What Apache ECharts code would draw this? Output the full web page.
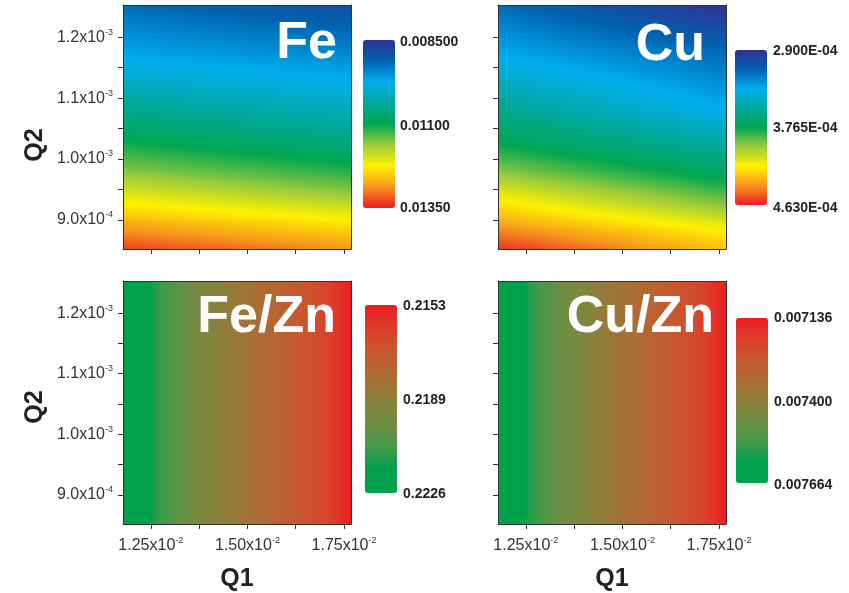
<!DOCTYPE html>
<html>
<head>
<meta charset="utf-8">
<script src="https://cdn.jsdelivr.net/npm/echarts@6/dist/echarts.min.js"></script>
<style>
html, body { margin: 0; padding: 0; background: #fff; }
#chart { width: 849px; height: 593px; }
</style>
</head>
<body>
<div id="chart"></div>
<script>
// axis ranges / ticks
const q1Range = [0.01178, 0.01768];
const q2Range = [0.000852, 0.001253];
const q1Ticks = [0.0125, 0.01375, 0.015, 0.01625, 0.0175];
const q1Labels = [0.0125, 0.015, 0.0175];
const q2Ticks = [0.0009, 0.00095, 0.001, 0.00105, 0.0011, 0.00115, 0.0012];
const q2Labels = [0.0009, 0.001, 0.0011, 0.0012];

// where the Fe / Cu values were read: 6 Q1 columns, 24 Q2 rows (top -> bottom)
const q1Cols = [0.01178, 0.01296, 0.01414, 0.01532, 0.0165, 0.01768];
const q2Rows = [
  0.0012446, 0.0012279, 0.0012112, 0.0011945, 0.0011778, 0.0011611, 0.0011444, 0.0011277,
  0.0011110, 0.0010943, 0.0010775, 0.0010608, 0.0010441, 0.0010274, 0.0010107, 0.0009940,
  0.0009773, 0.0009606, 0.0009439, 0.0009272, 0.0009104, 0.0008937, 0.0008770, 0.0008603
];

const feRows = [
  [0.00925, 0.00918, 0.00911, 0.00905, 0.00898, 0.00891],
  [0.00936, 0.00930, 0.00923, 0.00917, 0.00910, 0.00904],
  [0.00946, 0.00940, 0.00934, 0.00928, 0.00922, 0.00916],
  [0.00956, 0.00950, 0.00945, 0.00939, 0.00934, 0.00928],
  [0.00966, 0.00961, 0.00956, 0.00950, 0.00945, 0.00940],
  [0.00977, 0.00972, 0.00967, 0.00962, 0.00957, 0.00952],
  [0.00992, 0.00987, 0.00981, 0.00976, 0.00970, 0.00965],
  [0.01007, 0.01001, 0.00995, 0.00989, 0.00983, 0.00977],
  [0.01022, 0.01016, 0.01009, 0.01003, 0.00996, 0.00990],
  [0.01038, 0.01031, 0.01024, 0.01018, 0.01011, 0.01004],
  [0.01054, 0.01047, 0.01039, 0.01032, 0.01024, 0.01017],
  [0.01071, 0.01063, 0.01055, 0.01047, 0.01039, 0.01031],
  [0.01087, 0.01079, 0.01071, 0.01063, 0.01055, 0.01047],
  [0.01104, 0.01096, 0.01088, 0.01081, 0.01073, 0.01065],
  [0.01121, 0.01113, 0.01105, 0.01098, 0.01090, 0.01082],
  [0.01138, 0.01130, 0.01123, 0.01115, 0.01108, 0.01100],
  [0.01157, 0.01149, 0.01141, 0.01134, 0.01126, 0.01118],
  [0.01180, 0.01171, 0.01163, 0.01154, 0.01146, 0.01137],
  [0.01203, 0.01194, 0.01185, 0.01176, 0.01167, 0.01158],
  [0.01226, 0.01217, 0.01209, 0.01200, 0.01192, 0.01183],
  [0.01248, 0.01240, 0.01232, 0.01225, 0.01217, 0.01209],
  [0.01272, 0.01264, 0.01256, 0.01249, 0.01241, 0.01233],
  [0.01295, 0.01287, 0.01279, 0.01270, 0.01262, 0.01254],
  [0.01319, 0.01310, 0.01301, 0.01293, 0.01284, 0.01275]
];

const cuRows = [
  [316.1e-6, 311.4e-6, 306.7e-6, 302.0e-6, 297.3e-6, 292.6e-6],
  [319.8e-6, 315.4e-6, 310.9e-6, 306.5e-6, 302.0e-6, 297.6e-6],
  [323.6e-6, 319.4e-6, 315.2e-6, 311.0e-6, 306.8e-6, 302.6e-6],
  [327.2e-6, 323.3e-6, 319.4e-6, 315.6e-6, 311.7e-6, 307.8e-6],
  [331.0e-6, 327.4e-6, 323.7e-6, 320.1e-6, 316.4e-6, 312.8e-6],
  [335.2e-6, 331.4e-6, 327.6e-6, 323.9e-6, 320.1e-6, 316.3e-6],
  [340.0e-6, 336.0e-6, 331.9e-6, 327.9e-6, 323.8e-6, 319.8e-6],
  [345.0e-6, 340.7e-6, 336.4e-6, 332.0e-6, 327.7e-6, 323.4e-6],
  [349.9e-6, 345.3e-6, 340.7e-6, 336.0e-6, 331.4e-6, 326.8e-6],
  [354.9e-6, 350.0e-6, 345.1e-6, 340.1e-6, 335.2e-6, 330.3e-6],
  [360.1e-6, 354.9e-6, 349.8e-6, 344.6e-6, 339.5e-6, 334.3e-6],
  [365.4e-6, 360.4e-6, 355.4e-6, 350.3e-6, 345.3e-6, 340.3e-6],
  [370.8e-6, 365.9e-6, 361.0e-6, 356.2e-6, 351.3e-6, 346.4e-6],
  [376.0e-6, 371.3e-6, 366.5e-6, 361.8e-6, 357.0e-6, 352.3e-6],
  [382.6e-6, 377.8e-6, 373.0e-6, 368.3e-6, 363.5e-6, 358.7e-6],
  [389.0e-6, 384.3e-6, 379.5e-6, 374.8e-6, 370.0e-6, 365.3e-6],
  [396.2e-6, 391.3e-6, 386.4e-6, 381.6e-6, 376.7e-6, 371.8e-6],
  [405.0e-6, 399.7e-6, 394.5e-6, 389.2e-6, 384.0e-6, 378.7e-6],
  [413.9e-6, 408.4e-6, 402.9e-6, 397.4e-6, 391.9e-6, 386.4e-6],
  [422.2e-6, 416.6e-6, 410.9e-6, 405.3e-6, 399.6e-6, 394.0e-6],
  [430.0e-6, 424.8e-6, 419.5e-6, 414.3e-6, 409.0e-6, 403.8e-6],
  [437.7e-6, 432.9e-6, 428.0e-6, 423.2e-6, 418.3e-6, 413.5e-6],
  [446.4e-6, 441.5e-6, 436.6e-6, 431.6e-6, 426.7e-6, 421.8e-6],
  [455.0e-6, 449.5e-6, 444.0e-6, 438.4e-6, 432.9e-6, 427.4e-6]
];

// Fe/Zn and Cu/Zn only change along Q1; read at these 40 Q1 positions
const q1Strip = [
  0.011854, 0.012001, 0.012149, 0.012296, 0.012444, 0.012591, 0.012739, 0.012886, 0.013034, 0.013181,
  0.013329, 0.013476, 0.013624, 0.013771, 0.013919, 0.014066, 0.014214, 0.014361, 0.014509, 0.014656,
  0.014804, 0.014951, 0.015099, 0.015246, 0.015394, 0.015541, 0.015689, 0.015836, 0.015984, 0.016131,
  0.016279, 0.016426, 0.016574, 0.016721, 0.016869, 0.017016, 0.017164, 0.017311, 0.017459, 0.017606
];
const q2Strip = [0.001253, 0.000852];
const feZnCols = [
  0.22202, 0.22194, 0.22194, 0.22187, 0.22180, 0.22125, 0.22099, 0.22076, 0.22053, 0.22029,
  0.22006, 0.21987, 0.21970, 0.21954, 0.21937, 0.21921, 0.21905, 0.21891, 0.21877, 0.21863,
  0.21849, 0.21835, 0.21821, 0.21809, 0.21797, 0.21785, 0.21772, 0.21760, 0.21748, 0.21734,
  0.21720, 0.21706, 0.21692, 0.21678, 0.21662, 0.21642, 0.21621, 0.21600, 0.21575, 0.21545
];
const cuZnCols = [
  7622e-6, 7616e-6, 7616e-6, 7611e-6, 7606e-6, 7566e-6, 7548e-6, 7531e-6, 7514e-6, 7497e-6,
  7480e-6, 7467e-6, 7454e-6, 7443e-6, 7431e-6, 7419e-6, 7407e-6, 7397e-6, 7387e-6, 7377e-6,
  7367e-6, 7357e-6, 7347e-6, 7338e-6, 7329e-6, 7320e-6, 7311e-6, 7302e-6, 7293e-6, 7283e-6,
  7273e-6, 7263e-6, 7253e-6, 7243e-6, 7232e-6, 7217e-6, 7202e-6, 7187e-6, 7169e-6, 7147e-6
];

// colour bar ranges and their labels (top, middle, bottom)
const feRange = [0.0085, 0.0135];
const cuRange = [2.9e-4, 4.63e-4];
const feZnRange = [0.2153, 0.2226];
const cuZnRange = [0.007136, 0.007664];
const feBarLabels = ['0.008500', '0.01100', '0.01350'];
const cuBarLabels = ['2.900E-04', '3.765E-04', '4.630E-04'];
const feZnBarLabels = ['0.2153', '0.2189', '0.2226'];
const cuZnBarLabels = ['0.007136', '0.007400', '0.007664'];

const rainbow = ['#2e3192', '#0062b0', '#00aeef', '#00a99d', '#00a651', '#9ccb3b', '#fff200', '#f7941d', '#ed1c24'];
const redGreen = ['#ed1c24', '#dc3e29', '#c8582d', '#ad6c32', '#8c803a', '#6f8e43', '#46994a', '#00a14b', '#00a14b'];

const FONT = '"Liberation Sans", Arial, sans-serif';

const panels = [
  { name: 'Fe', q1s: q1Cols, q2s: q2Rows, rows: feRows, range: feRange, colors: rainbow, labels: feBarLabels,
    grid: [123, 5, 228, 244], bar: [363, 40, 168], labelX: 400, labelY: [43, 127, 209],
    titleX: 337, titleY: 44, showQ1: false, showQ2: true },
  { name: 'Cu', q1s: q1Cols, q2s: q2Rows, rows: cuRows, range: cuRange, colors: rainbow, labels: cuBarLabels,
    grid: [498, 5, 228, 244], bar: [735, 50, 155], labelX: 773, labelY: [52, 129, 209],
    titleX: 705, titleY: 46, showQ1: false, showQ2: false },
  { name: 'Fe/Zn', q1s: q1Strip, q2s: q2Strip, rows: [feZnCols, feZnCols], range: feZnRange, colors: redGreen,
    labels: feZnBarLabels, grid: [123, 281, 228, 243], bar: [365, 305, 188], labelX: 403, labelY: [307, 401, 495],
    titleX: 336, titleY: 318, showQ1: true, showQ2: true },
  { name: 'Cu/Zn', q1s: q1Strip, q2s: q2Strip, rows: [cuZnCols, cuZnCols], range: cuZnRange, colors: redGreen,
    labels: cuZnBarLabels, grid: [498, 281, 228, 243], bar: [736, 318, 165], labelX: 774, labelY: [319, 403, 486],
    titleX: 714, titleY: 318, showQ1: true, showQ2: false }
];

function sciLabel(v, digits) {
  const e = Math.floor(Math.log10(v) + 1e-9);
  const m = v / Math.pow(10, e);
  return '{m|' + m.toFixed(digits) + 'x10}{e|' + e + '}';
}
const sciRich = {
  m: { fontSize: 16, color: '#333', fontFamily: FONT },
  e: { fontSize: 9, color: '#333', fontFamily: FONT, padding: [0, 0, 10, 0] }
};

// each cell between four read values is shaded with a linear gradient
// coloured through the same colour list as the visualMap
function makeRender(p) {
  const span = p.range[1] - p.range[0];
  const nc = p.q1s.length, nr = p.q2s.length;
  const colorOf = v => echarts.color.lerp(Math.min(1, Math.max(0, (v - p.range[0]) / span)), p.colors);
  return function (params, api) {
    const c = api.value(3), r = api.value(4);
    if (c >= nc - 1 || r >= nr - 1) return null;
    const s0 = api.coord([p.q1s[c], p.q2s[r]]);
    const s1 = api.coord([p.q1s[c + 1], p.q2s[r + 1]]);
    const L = c === 0 ? api.coord([q1Range[0], q2Range[0]])[0] : s0[0];
    const R = (c === nc - 2 ? api.coord([q1Range[1], q2Range[0]])[0] : s1[0]) + 0.7;
    const T = r === 0 ? api.coord([q1Range[0], q2Range[1]])[1] : s0[1];
    const B = (r === nr - 2 ? api.coord([q1Range[0], q2Range[0]])[1] : s1[1]) + 0.7;
    const v00 = p.rows[r][c], v10 = p.rows[r][c + 1], v01 = p.rows[r + 1][c], v11 = p.rows[r + 1][c + 1];
    const w = s1[0] - s0[0], h = s1[1] - s0[1];
    const gx = ((v10 - v00) + (v11 - v01)) / (2 * w);
    const gy = ((v01 - v00) + (v11 - v10)) / (2 * h);
    const cx = (s0[0] + s1[0]) / 2, cy = (s0[1] + s1[1]) / 2;
    const vc = (v00 + v10 + v01 + v11) / 4;
    const g = Math.hypot(gx, gy);
    let fill;
    if (!g) {
      fill = colorOf(vc);
    } else {
      const ux = gx / g, uy = gy / g;
      const ts = [[L, T], [R, T], [L, B], [R, B]].map(q => (q[0] - cx) * ux + (q[1] - cy) * uy);
      const t0 = Math.min(...ts), t1 = Math.max(...ts);
      const stops = [];
      for (let k = 0; k <= 6; k++) {
        const t = t0 + (t1 - t0) * k / 6;
        stops.push({ offset: k / 6, color: colorOf(vc + g * t) });
      }
      fill = new echarts.graphic.LinearGradient(cx + ux * t0, cy + uy * t0, cx + ux * t1, cy + uy * t1, stops, true);
    }
    return { type: 'rect', shape: { x: L, y: T, width: R - L, height: B - T }, style: { fill: fill } };
  };
}

const grid = [], xAxis = [], yAxis = [], series = [], visualMap = [], graphic = [];
const frame = { show: true, onZero: false, lineStyle: { color: '#333', width: 1 } };

panels.forEach((p, i) => {
  grid.push({ left: p.grid[0], top: p.grid[1], width: p.grid[2], height: p.grid[3] });

  xAxis.push({
    type: 'value', gridIndex: i, position: 'bottom', min: q1Range[0], max: q1Range[1],
    axisLine: frame,
    axisTick: { show: true, length: 5, customValues: q1Ticks, lineStyle: { color: '#333' } },
    axisLabel: { show: p.showQ1, customValues: q1Labels, margin: 12,
      formatter: v => sciLabel(v, 2), rich: sciRich },
    splitLine: { show: false }, z: 10
  });
  xAxis.push({
    type: 'value', gridIndex: i, position: 'top', min: q1Range[0], max: q1Range[1],
    axisLine: frame, axisTick: { show: false }, axisLabel: { show: false }, splitLine: { show: false }, z: 10
  });
  yAxis.push({
    type: 'value', gridIndex: i, position: 'left', min: q2Range[0], max: q2Range[1],
    axisLine: frame,
    axisTick: { show: true, length: 5, customValues: q2Ticks, lineStyle: { color: '#333' } },
    axisLabel: { show: p.showQ2, customValues: q2Labels, margin: 10,
      formatter: v => sciLabel(v, 1), rich: sciRich },
    splitLine: { show: false }, z: 10
  });
  yAxis.push({
    type: 'value', gridIndex: i, position: 'right', min: q2Range[0], max: q2Range[1],
    axisLine: frame, axisTick: { show: false }, axisLabel: { show: false }, splitLine: { show: false }, z: 10
  });

  const data = [];
  p.rows.forEach((row, r) => row.forEach((v, c) => data.push([p.q1s[c], p.q2s[r], v, c, r])));
  series.push({
    type: 'custom', name: p.name, xAxisIndex: 2 * i, yAxisIndex: 2 * i,
    renderItem: makeRender(p), data: data, clip: true, silent: true, z: 1
  });

  visualMap.push({
    type: 'continuous', seriesIndex: i, dimension: 2, min: p.range[0], max: p.range[1],
    calculable: false, hoverLink: false, inverse: true, padding: 0,
    left: p.bar[0], top: p.bar[1], itemWidth: 32, itemHeight: p.bar[2],
    inRange: { color: p.colors }, textStyle: { color: 'transparent' }
  });

  p.labels.forEach((t, k) => {
    graphic.push({
      type: 'text', left: p.labelX, top: p.labelY[k] - 8,
      style: { text: t, fill: '#222', font: 'bold 14px ' + FONT }
    });
  });

  graphic.push({
    type: 'text', x: p.titleX, y: p.titleY, z: 100,
    style: { text: p.name, fill: '#fff', font: 'bold 52px ' + FONT, align: 'right', verticalAlign: 'middle' }
  });
});

// axis titles
[145, 407].forEach(y => {
  graphic.push({
    type: 'text', x: 35, y: y, rotation: Math.PI / 2,
    style: { text: 'Q2', fill: '#222', font: 'bold 25px ' + FONT, align: 'center', verticalAlign: 'middle' }
  });
});
[237, 612].forEach(x => {
  graphic.push({
    type: 'text', x: x, y: 579,
    style: { text: 'Q1', fill: '#222', font: 'bold 25px ' + FONT, align: 'center', verticalAlign: 'middle' }
  });
});

const chart = echarts.init(document.getElementById('chart'));
chart.setOption({
  animation: false,
  textStyle: { fontFamily: FONT },
  grid: grid,
  xAxis: xAxis,
  yAxis: yAxis,
  visualMap: visualMap,
  series: series,
  graphic: graphic
});
</script>
</body>
</html>
